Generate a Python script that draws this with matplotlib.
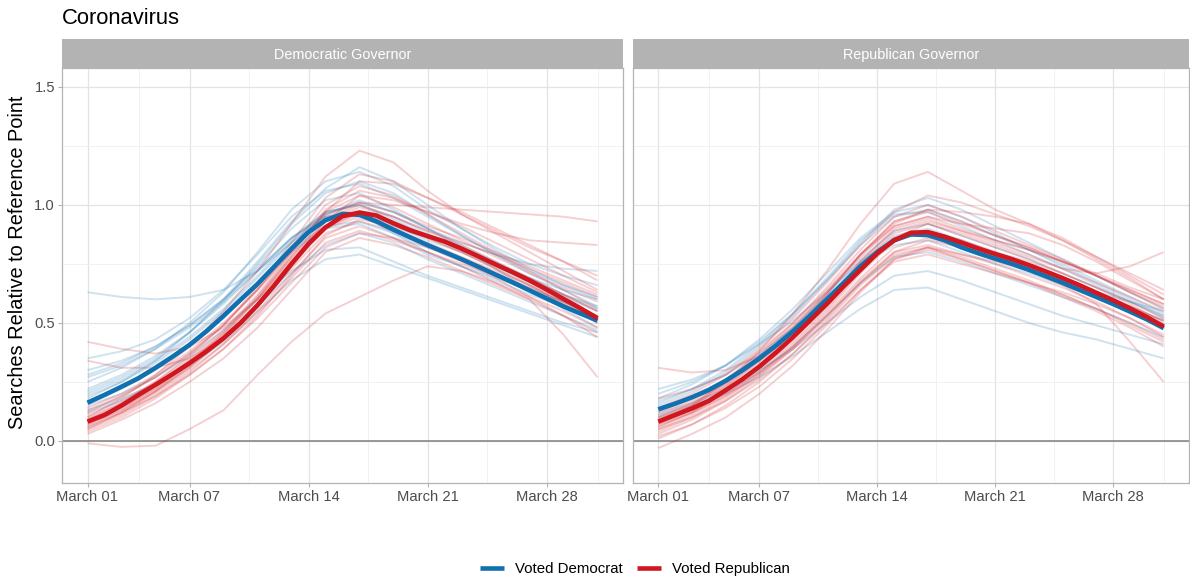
import numpy as np
import matplotlib
matplotlib.use("Agg")
import matplotlib.pyplot as plt
from matplotlib.lines import Line2D

plt.rcParams['font.family'] = ['Liberation Sans', 'DejaVu Sans']

# ---- data ----
days = np.arange(31)                 # March 01 .. March 31
sample_days = np.arange(0, 31, 2)    # faint state lines sampled every 2 days
tick_days = [0, 6, 13, 20, 27]
tick_labels = ['March 01', 'March 07', 'March 14', 'March 21', 'March 28']
panel_titles = ['Democratic Governor', 'Republican Governor']
legend_labels = ['Voted Democrat', 'Voted Republican']

# thick average lines (daily)
dem_gov_blue_avg = [0.162, 0.195, 0.23, 0.266, 0.31, 0.357, 0.407, 0.465, 0.53, 0.598, 0.665,
                    0.74, 0.815, 0.885, 0.935, 0.962, 0.958, 0.93, 0.895, 0.862, 0.83, 0.8,
                    0.77, 0.738, 0.705, 0.672, 0.638, 0.604, 0.57, 0.54, 0.51]
dem_gov_red_avg = [0.082, 0.11, 0.15, 0.195, 0.238, 0.283, 0.33, 0.38, 0.435, 0.5, 0.575,
                   0.66, 0.75, 0.835, 0.905, 0.952, 0.968, 0.955, 0.922, 0.892, 0.868, 0.845,
                   0.815, 0.782, 0.748, 0.715, 0.68, 0.642, 0.602, 0.562, 0.52]
rep_gov_blue_avg = [0.134, 0.158, 0.185, 0.216, 0.255, 0.3, 0.35, 0.405, 0.465, 0.53, 0.6,
                    0.67, 0.74, 0.8, 0.85, 0.875, 0.872, 0.85, 0.82, 0.795, 0.772, 0.75,
                    0.725, 0.698, 0.67, 0.64, 0.61, 0.58, 0.548, 0.515, 0.478]
rep_gov_red_avg = [0.082, 0.11, 0.138, 0.17, 0.215, 0.262, 0.315, 0.375, 0.44, 0.51, 0.58,
                   0.655, 0.725, 0.795, 0.85, 0.882, 0.885, 0.865, 0.84, 0.815, 0.792, 0.77,
                   0.745, 0.718, 0.69, 0.66, 0.628, 0.596, 0.562, 0.525, 0.485]

# faint state lines (every 2 days)
dem_gov_blue_states = [
    [0.63, 0.61, 0.60, 0.61, 0.64, 0.72, 0.84, 0.95, 0.96, 0.88, 0.80, 0.74, 0.68, 0.62, 0.57, 0.52],
    [0.25, 0.31, 0.39, 0.50, 0.63, 0.80, 0.98, 1.10, 1.14, 1.08, 0.98, 0.90, 0.82, 0.75, 0.70, 0.66],
    [0.30, 0.34, 0.40, 0.49, 0.60, 0.74, 0.90, 1.02, 1.05, 0.98, 0.90, 0.84, 0.79, 0.75, 0.73, 0.72],
    [0.20, 0.26, 0.34, 0.44, 0.56, 0.70, 0.85, 0.97, 1.00, 0.95, 0.88, 0.81, 0.74, 0.67, 0.61, 0.55],
    [0.15, 0.20, 0.27, 0.36, 0.47, 0.60, 0.72, 0.81, 0.82, 0.76, 0.70, 0.65, 0.60, 0.55, 0.50, 0.46],
    [0.13, 0.18, 0.24, 0.32, 0.42, 0.55, 0.68, 0.77, 0.79, 0.74, 0.69, 0.64, 0.59, 0.54, 0.49, 0.44],
    [0.18, 0.25, 0.34, 0.46, 0.60, 0.76, 0.93, 1.07, 1.16, 1.10, 1.00, 0.90, 0.81, 0.73, 0.66, 0.60],
    [0.28, 0.33, 0.40, 0.49, 0.60, 0.73, 0.86, 0.95, 0.97, 0.91, 0.85, 0.80, 0.74, 0.68, 0.62, 0.57],
    [0.22, 0.28, 0.36, 0.46, 0.58, 0.72, 0.86, 0.96, 1.02, 0.97, 0.90, 0.82, 0.73, 0.64, 0.56, 0.48],
    [0.12, 0.17, 0.24, 0.33, 0.44, 0.57, 0.71, 0.83, 0.88, 0.84, 0.77, 0.71, 0.65, 0.59, 0.53, 0.47],
    [0.35, 0.38, 0.43, 0.52, 0.64, 0.79, 0.95, 1.06, 1.09, 1.03, 0.95, 0.87, 0.79, 0.72, 0.66, 0.61],
    [0.16, 0.22, 0.30, 0.40, 0.52, 0.66, 0.80, 0.90, 0.92, 0.86, 0.79, 0.74, 0.69, 0.64, 0.59, 0.53],
    [0.27, 0.32, 0.39, 0.48, 0.59, 0.72, 0.86, 0.97, 1.00, 0.94, 0.87, 0.81, 0.75, 0.69, 0.64, 0.60],
    [0.19, 0.25, 0.33, 0.43, 0.55, 0.69, 0.84, 0.96, 1.01, 0.97, 0.90, 0.83, 0.76, 0.69, 0.62, 0.56],
    [0.17, 0.23, 0.31, 0.41, 0.53, 0.67, 0.81, 0.91, 0.93, 0.88, 0.82, 0.77, 0.71, 0.65, 0.59, 0.52],
    [0.21, 0.27, 0.35, 0.46, 0.59, 0.75, 0.92, 1.05, 1.10, 1.05, 0.96, 0.87, 0.79, 0.71, 0.64, 0.57],
]
dem_gov_red_states = [
    [-0.01, -0.025, -0.02, 0.05, 0.13, 0.28, 0.42, 0.54, 0.61, 0.68, 0.74, 0.72, 0.67, 0.61, 0.55, 0.48],
    [0.10, 0.18, 0.28, 0.40, 0.55, 0.72, 0.92, 1.12, 1.23, 1.18, 1.06, 0.96, 0.88, 0.80, 0.72, 0.64],
    [0.05, 0.12, 0.21, 0.32, 0.45, 0.60, 0.78, 0.95, 1.01, 1.00, 0.99, 0.98, 0.97, 0.96, 0.95, 0.93],
    [0.08, 0.14, 0.22, 0.32, 0.44, 0.58, 0.76, 0.93, 1.04, 1.02, 0.97, 0.92, 0.88, 0.85, 0.84, 0.83],
    [0.42, 0.39, 0.37, 0.40, 0.48, 0.60, 0.76, 0.90, 0.95, 0.90, 0.84, 0.78, 0.72, 0.66, 0.60, 0.53],
    [0.34, 0.31, 0.31, 0.35, 0.44, 0.57, 0.73, 0.88, 0.93, 0.89, 0.83, 0.77, 0.70, 0.64, 0.58, 0.50],
    [0.05, 0.11, 0.19, 0.29, 0.41, 0.55, 0.71, 0.86, 0.91, 0.86, 0.80, 0.74, 0.67, 0.60, 0.45, 0.27],
    [0.07, 0.13, 0.21, 0.31, 0.43, 0.57, 0.74, 0.90, 0.97, 0.93, 0.87, 0.81, 0.75, 0.69, 0.62, 0.55],
    [0.12, 0.19, 0.27, 0.37, 0.49, 0.64, 0.82, 1.00, 1.08, 1.04, 0.96, 0.88, 0.80, 0.72, 0.64, 0.56],
    [0.03, 0.09, 0.16, 0.25, 0.35, 0.48, 0.64, 0.80, 0.86, 0.83, 0.78, 0.72, 0.66, 0.60, 0.53, 0.46],
    [0.09, 0.16, 0.25, 0.36, 0.49, 0.65, 0.84, 1.03, 1.13, 1.10, 1.03, 0.96, 0.89, 0.82, 0.76, 0.70],
    [0.06, 0.12, 0.20, 0.30, 0.41, 0.54, 0.69, 0.84, 0.89, 0.85, 0.80, 0.75, 0.70, 0.65, 0.59, 0.52],
    [0.14, 0.20, 0.28, 0.38, 0.50, 0.64, 0.80, 0.97, 1.04, 0.99, 0.92, 0.85, 0.78, 0.71, 0.65, 0.59],
    [0.04, 0.10, 0.18, 0.28, 0.39, 0.52, 0.67, 0.82, 0.88, 0.86, 0.82, 0.76, 0.69, 0.61, 0.53, 0.44],
    [0.10, 0.16, 0.24, 0.34, 0.46, 0.61, 0.79, 0.97, 1.10, 1.09, 1.03, 0.97, 0.90, 0.83, 0.76, 0.68],
    [0.08, 0.14, 0.22, 0.33, 0.46, 0.61, 0.78, 0.94, 1.00, 0.95, 0.89, 0.84, 0.79, 0.73, 0.67, 0.61],
    [0.09, 0.15, 0.23, 0.33, 0.45, 0.60, 0.77, 0.93, 0.99, 0.95, 0.89, 0.83, 0.76, 0.69, 0.62, 0.55],
    [0.06, 0.12, 0.19, 0.28, 0.39, 0.53, 0.70, 0.87, 0.94, 0.91, 0.86, 0.80, 0.73, 0.66, 0.59, 0.51],
    [0.11, 0.17, 0.25, 0.35, 0.47, 0.62, 0.80, 0.98, 1.06, 1.03, 0.97, 0.91, 0.84, 0.77, 0.70, 0.63],
    [0.07, 0.13, 0.21, 0.31, 0.43, 0.58, 0.75, 0.91, 0.96, 0.92, 0.86, 0.80, 0.73, 0.66, 0.58, 0.50],
    [0.13, 0.19, 0.27, 0.37, 0.49, 0.64, 0.81, 0.96, 1.01, 0.97, 0.91, 0.86, 0.80, 0.74, 0.68, 0.62],
]
rep_gov_blue_states = [
    [0.10, 0.14, 0.20, 0.27, 0.36, 0.46, 0.56, 0.64, 0.65, 0.60, 0.55, 0.50, 0.46, 0.43, 0.39, 0.35],
    [0.12, 0.16, 0.22, 0.30, 0.39, 0.50, 0.61, 0.70, 0.72, 0.68, 0.63, 0.58, 0.53, 0.49, 0.45, 0.41],
    [0.20, 0.25, 0.32, 0.42, 0.54, 0.68, 0.83, 0.95, 0.98, 0.93, 0.87, 0.81, 0.75, 0.68, 0.61, 0.54],
    [0.15, 0.21, 0.29, 0.40, 0.53, 0.68, 0.84, 0.98, 1.03, 0.98, 0.91, 0.84, 0.77, 0.70, 0.63, 0.56],
    [0.17, 0.22, 0.28, 0.37, 0.48, 0.61, 0.74, 0.83, 0.85, 0.80, 0.75, 0.71, 0.66, 0.61, 0.55, 0.49],
    [0.13, 0.18, 0.25, 0.34, 0.46, 0.60, 0.75, 0.87, 0.90, 0.85, 0.79, 0.73, 0.67, 0.61, 0.56, 0.51],
    [0.22, 0.26, 0.32, 0.41, 0.51, 0.63, 0.76, 0.86, 0.88, 0.83, 0.78, 0.73, 0.68, 0.63, 0.59, 0.55],
    [0.11, 0.15, 0.21, 0.29, 0.40, 0.53, 0.67, 0.78, 0.80, 0.76, 0.71, 0.66, 0.61, 0.56, 0.50, 0.44],
    [0.16, 0.22, 0.30, 0.41, 0.54, 0.69, 0.85, 0.96, 0.97, 0.91, 0.85, 0.79, 0.73, 0.66, 0.59, 0.52],
    [0.18, 0.24, 0.32, 0.43, 0.56, 0.71, 0.86, 0.97, 1.00, 0.95, 0.88, 0.81, 0.74, 0.67, 0.60, 0.53],
    [0.14, 0.19, 0.26, 0.36, 0.48, 0.62, 0.77, 0.89, 0.92, 0.87, 0.82, 0.77, 0.71, 0.65, 0.59, 0.53],
]
rep_gov_red_states = [
    [0.31, 0.29, 0.30, 0.36, 0.46, 0.60, 0.75, 0.88, 0.92, 0.87, 0.82, 0.77, 0.71, 0.65, 0.59, 0.52],
    [0.08, 0.15, 0.25, 0.38, 0.54, 0.72, 0.92, 1.09, 1.14, 1.06, 0.98, 0.92, 0.85, 0.77, 0.69, 0.60],
    [0.06, 0.12, 0.20, 0.30, 0.42, 0.56, 0.72, 0.86, 0.92, 0.88, 0.83, 0.78, 0.73, 0.71, 0.74, 0.80],
    [0.10, 0.16, 0.24, 0.35, 0.48, 0.63, 0.79, 0.92, 0.98, 0.97, 0.95, 0.92, 0.86, 0.78, 0.70, 0.62],
    [0.04, 0.10, 0.18, 0.28, 0.40, 0.54, 0.69, 0.82, 0.86, 0.82, 0.77, 0.72, 0.66, 0.58, 0.42, 0.25],
    [-0.03, 0.03, 0.10, 0.20, 0.32, 0.47, 0.63, 0.77, 0.82, 0.78, 0.73, 0.68, 0.62, 0.56, 0.49, 0.42],
    [0.02, 0.07, 0.14, 0.23, 0.35, 0.49, 0.64, 0.77, 0.81, 0.77, 0.72, 0.67, 0.62, 0.56, 0.50, 0.43],
    [0.12, 0.18, 0.26, 0.37, 0.50, 0.65, 0.81, 0.95, 1.00, 0.95, 0.89, 0.83, 0.77, 0.70, 0.63, 0.56],
    [0.07, 0.13, 0.21, 0.31, 0.44, 0.59, 0.76, 0.90, 0.94, 0.89, 0.84, 0.79, 0.73, 0.67, 0.61, 0.55],
    [0.09, 0.15, 0.23, 0.33, 0.45, 0.59, 0.74, 0.86, 0.89, 0.85, 0.80, 0.76, 0.71, 0.65, 0.58, 0.50],
    [0.03, 0.09, 0.17, 0.27, 0.39, 0.53, 0.68, 0.80, 0.83, 0.79, 0.75, 0.70, 0.65, 0.59, 0.52, 0.44],
    [0.14, 0.20, 0.28, 0.39, 0.52, 0.67, 0.83, 0.97, 1.04, 1.01, 0.96, 0.91, 0.85, 0.78, 0.71, 0.64],
    [0.05, 0.10, 0.17, 0.26, 0.37, 0.50, 0.64, 0.76, 0.79, 0.75, 0.71, 0.67, 0.63, 0.58, 0.52, 0.45],
    [0.11, 0.17, 0.25, 0.36, 0.49, 0.63, 0.78, 0.91, 0.95, 0.90, 0.85, 0.81, 0.76, 0.70, 0.64, 0.58],
    [0.08, 0.13, 0.20, 0.29, 0.40, 0.53, 0.67, 0.79, 0.82, 0.77, 0.72, 0.67, 0.61, 0.55, 0.48, 0.40],
    [0.06, 0.12, 0.21, 0.32, 0.46, 0.62, 0.79, 0.93, 0.97, 0.92, 0.87, 0.82, 0.76, 0.70, 0.63, 0.57],
    [0.18, 0.22, 0.28, 0.38, 0.50, 0.64, 0.79, 0.91, 0.95, 0.92, 0.90, 0.88, 0.83, 0.76, 0.68, 0.60],
    [0.01, 0.07, 0.15, 0.25, 0.37, 0.51, 0.66, 0.78, 0.82, 0.79, 0.76, 0.72, 0.67, 0.61, 0.55, 0.48],
    [0.09, 0.15, 0.23, 0.34, 0.47, 0.62, 0.79, 0.93, 0.98, 0.93, 0.87, 0.82, 0.76, 0.70, 0.64, 0.58],
    [0.05, 0.11, 0.19, 0.29, 0.41, 0.55, 0.71, 0.85, 0.89, 0.85, 0.80, 0.75, 0.69, 0.63, 0.57, 0.51],
    [0.10, 0.16, 0.24, 0.34, 0.46, 0.60, 0.76, 0.89, 0.93, 0.89, 0.85, 0.81, 0.76, 0.71, 0.65, 0.60],
    [0.07, 0.12, 0.19, 0.28, 0.39, 0.52, 0.67, 0.80, 0.85, 0.82, 0.78, 0.74, 0.69, 0.63, 0.57, 0.51],
]

BLUE = '#1170B0'
RED = '#D0161E'
GREY70 = '#B3B3B3'
W, H = 1190, 581

panels = [
    (dem_gov_blue_states, dem_gov_red_states, dem_gov_blue_avg, dem_gov_red_avg),
    (rep_gov_blue_states, rep_gov_red_states, rep_gov_blue_avg, rep_gov_red_avg),
]
# pixel boxes (left, right) of the two panels
boxes = [(62, 623), (633, 1189)]
top_px, bottom_px = 68, 483

fig = plt.figure(figsize=(W / 100, H / 100), dpi=100)

for i, (blue_states, red_states, blue_avg, red_avg) in enumerate(panels):
    x0, x1 = boxes[i]
    ax = fig.add_axes([x0 / W, 1 - bottom_px / H, (x1 - x0) / W, (bottom_px - top_px) / H])

    for s in blue_states:
        ax.plot(sample_days, s, color=BLUE, alpha=0.2, lw=1.4, solid_capstyle='butt')
    for s in red_states:
        ax.plot(sample_days, s, color=RED, alpha=0.2, lw=1.4, solid_capstyle='butt')
    ax.axhline(0, color='#7F7F7F', lw=1.1, zorder=1.5)
    ax.plot(days, blue_avg, color=BLUE, lw=3.3, solid_capstyle='butt')
    ax.plot(days, red_avg, color=RED, lw=3.3, solid_capstyle='butt')

    ax.set_xlim(-1.5, 31.5)
    ax.set_ylim(-0.178, 1.58)
    ax.set_xticks(tick_days)
    ax.set_xticklabels(tick_labels)
    ax.set_xticks([3, 9.5, 16.5, 23.5, 30], minor=True)
    ax.set_yticks([0, 0.5, 1.0, 1.5])
    ax.set_yticklabels(['0.0', '0.5', '1.0', '1.5'])
    ax.set_yticks([0.25, 0.75, 1.25], minor=True)
    ax.grid(which='major', color='#E3E3E3', lw=0.9)
    ax.grid(which='minor', color='#EFEFEF', lw=0.6)
    ax.set_axisbelow(True)
    for sp in ax.spines.values():
        sp.set_color(GREY70)
        sp.set_linewidth(0.9)
    ax.tick_params(which='major', length=3, width=0.8, color=GREY70,
                   labelcolor='#4D4D4D', labelsize=10.6, pad=2)
    ax.tick_params(which='minor', length=0)
    if i == 1:
        ax.tick_params(axis='y', left=False, labelleft=False)

    # facet strip
    sax = fig.add_axes([x0 / W, 1 - top_px / H, (x1 - x0) / W, 29 / H])
    sax.set_facecolor(GREY70)
    sax.set_xticks([])
    sax.set_yticks([])
    for sp in sax.spines.values():
        sp.set_visible(False)
    sax.text(0.5, 0.45, panel_titles[i], color='white', size=10.4,
             ha='center', va='center', transform=sax.transAxes)

fig.text(62 / W, 1 - 19 / H, 'Coronavirus', size=15.8, ha='left', va='center', color='black')
fig.text(18 / W, 1 - 262 / H, 'Searches Relative to Reference Point', size=14.4,
         rotation=90, ha='center', va='center', color='black')

handles = [Line2D([], [], color=BLUE, lw=3.3, solid_capstyle='butt'),
           Line2D([], [], color=RED, lw=3.3, solid_capstyle='butt')]
fig.legend(handles, legend_labels, loc='center', bbox_to_anchor=(635 / W, 1 - 569 / H),
           ncol=2, frameon=False, fontsize=10.8, handlelength=1.6, handletextpad=0.75,
           columnspacing=0.9)

fig.savefig('out.png', dpi=100)
